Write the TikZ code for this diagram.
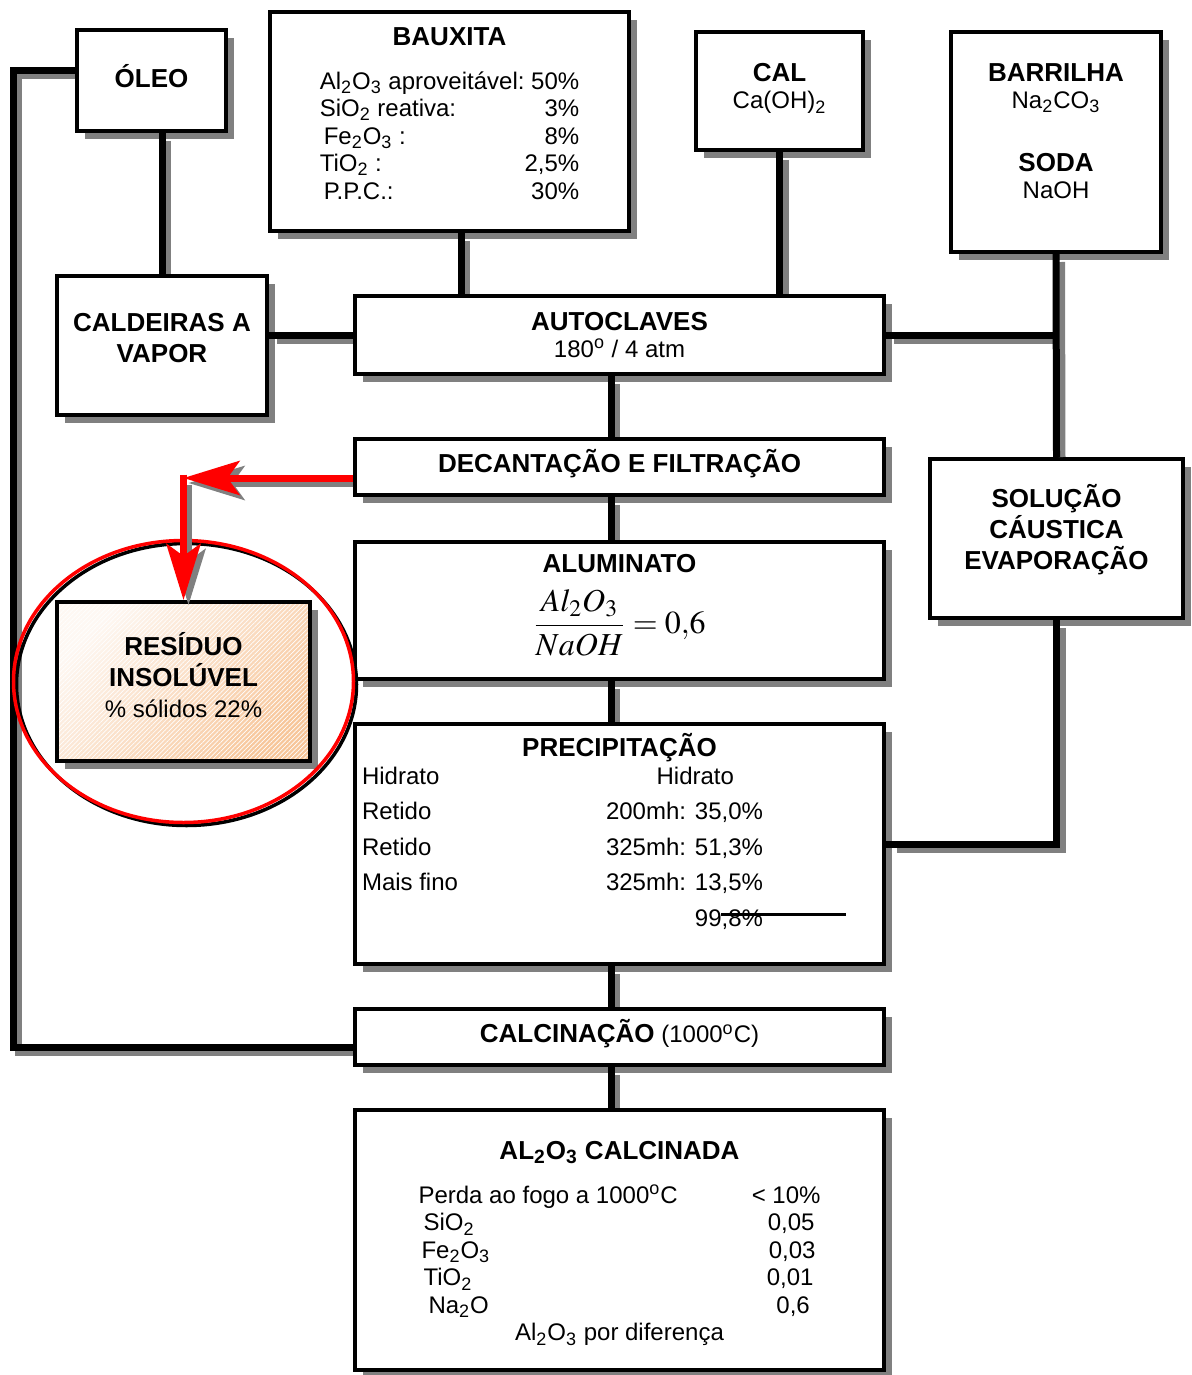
\documentclass[tikz,border=0pt]{standalone}
\usepackage{mathptmx}
\usepackage[no-math]{fontspec}
\setmainfont{Liberation Sans}
\usepackage{tikz}
\usetikzlibrary{arrows.meta, positioning, calc, shadows, patterns.meta}
\definecolor{shadowgray}{RGB}{128,128,128}
\definecolor{peach}{RGB}{247,198,154}
\definecolor{peachlight}{RGB}{254,248,243}
\newcommand{\titlefont}{\fontsize{13}{15.5}\selectfont\bfseries}
\newcommand{\bodyfont}{\fontsize{12}{13.75}\selectfont}
\newcommand{\subs}[1]{\textsubscript{#1}}
\newcommand{\dego}{\textsuperscript{o}}
\tikzset{
  box/.style={rectangle, draw=black, fill=white, line width=2pt,
    drop shadow={shadow xshift=4pt, shadow yshift=-4pt, fill=shadowgray, opacity=1}},
  mainbox/.style={box, minimum width=264.5pt},
  boxtext/.style={align=center, font=\bodyfont, inner sep=0pt},
  link/.style={line width=3.5pt, draw=black},
  linkshade/.style={line width=3.5pt, draw=shadowgray,
    shorten <=1.25pt, shorten >=2.75pt,
    transform canvas={shift={(2.75pt,-2.75pt)}}},
  redarrow/.style={line width=3.5pt, draw=red,
    -{Stealth[length=28pt, width=17pt, inset=6pt]}},
  redshade/.style={redarrow, draw=shadowgray, shorten <=2.5pt,
    transform canvas={shift={(2.5pt,-2.5pt)}}},
  ring/.style={draw=red, line width=1.75pt},
  ringshade/.style={draw=black, line width=1.75pt,
    transform canvas={shift={(1.5pt,-1.5pt)}}}
}
\begin{document}
\begin{tikzpicture}[x=0.5pt, y=-0.5pt]
  \useasboundingbox (0,0) rectangle (1192,1375);

  % caixas de insumos
  \node[box, minimum width=74.5pt, minimum height=50.5pt] (oleo) at (151.5,80.5) {};
  \node[box, minimum width=179.5pt, minimum height=109.5pt] (bauxita) at (449.5,121.5) {};
  \node[box, minimum width=83.5pt, minimum height=59pt] (cal) at (779.5,91) {};
  \node[box, minimum width=105pt, minimum height=110pt] (barrilha) at (1056,142) {};
  \node[box, minimum width=105pt, minimum height=69.5pt] (caldeiras) at (162,345.5) {};

  % linha principal
  \node[mainbox, minimum height=39pt] (autoclaves) at (619.5,335) {};
  \node[mainbox, minimum height=28pt, below=30.5pt of autoclaves] (decant) {};
  \node[mainbox, minimum height=68.5pt, below=21.5pt of decant] (aluminato) {};
  \node[mainbox, minimum height=120pt, below=20.5pt of aluminato] (precip) {};
  \node[mainbox, minimum height=28pt, below=20.5pt of precip] (calcin) {};
  \node[mainbox, minimum height=130pt, below=20.5pt of calcin] (calcinada) {};

  \node[box, minimum width=126.5pt, minimum height=79.5pt] (solucao) at (1056.5,538.5) {};
  \node[box, minimum width=126.5pt, minimum height=79.5pt, shading=axis,
    top color=peachlight, bottom color=peach, shading angle=45,
    postaction={pattern={Lines[angle=45, distance=1.6pt, line width=0.35pt]},
      pattern color=white, draw=black, line width=2pt}] (residuo) at (183.5,681.5) {};

  % textos
  \node[boxtext, font=\titlefont] (oleotext) at ([yshift=2pt]oleo.center) {ÓLEO};
  \node[boxtext] (bauxitatext) at ([yshift=2pt]bauxita.center) {%
    {\titlefont BAUXITA}\\[11pt]
    \begin{tabular}{@{}l@{}r@{}}
      Al\subs{2}O\subs{3} aproveitável: & 50\% \\
      SiO\subs{2} reativa: & 3\% \\
      \hspace{2pt}Fe\subs{2}O\subs{3} : & 8\% \\
      TiO\subs{2} : & 2,5\% \\
      \hspace{2pt}P.P.C.: & 30\%
    \end{tabular}};
  \node[boxtext] (caltext) at ([yshift=1.25pt]cal.center) {{\titlefont CAL}\\Ca(OH)\subs{2}};
  \node[boxtext] (barrilhatext) at ([yshift=5.5pt]barrilha.center) {%
    {\titlefont BARRILHA}\\Na\subs{2}CO\subs{3}\\[17.5pt]{\titlefont SODA}\\NaOH};
  \node[boxtext, font=\titlefont] (caldeirastext) at ([yshift=3.5pt]caldeiras.center) {CALDEIRAS A\\VAPOR};
  \node[boxtext] (autoclavestext) at (autoclaves.center) {{\titlefont AUTOCLAVES}\\180\dego\ / 4 atm};
  \node[boxtext, font=\titlefont] (decanttext) at ([yshift=1.5pt]decant.center) {DECANTAÇÃO E FILTRAÇÃO};
  \node[boxtext] (aluminatotext) at ([yshift=2.75pt]aluminato.center) {%
    {\titlefont ALUMINATO}\\[7.5pt]
    {\fontsize{16}{19}\selectfont $\displaystyle\frac{Al_2O_3}{NaOH}=0{,}6$}};
  \node[boxtext] (preciptext) at ([yshift=4.5pt]precip.center) {%
    {\titlefont PRECIPITAÇÃO}\\[-2pt]
    {\renewcommand{\arraystretch}{1.29}%
    \begin{tabular}{@{}p{122pt}@{}r@{\hspace{57pt}}}
      Hidrato & Hidrato\hspace{14.5pt} \\
      Retido & 200mh: 35,0\% \\
      Retido & 325mh: 51,3\% \\
      Mais fino & 325mh: 13,5\% \\
       & 99,8\%\rlap{\hspace{-21pt}\rule[5.1pt]{62.5pt}{1.75pt}}
    \end{tabular}}};
  \node[boxtext] (calcintext) at ([yshift=1.5pt]calcin.center) {{\titlefont CALCINAÇÃO} (1000\dego C)};
  \node[boxtext] (calcinadatext) at ([yshift=-2.5pt]calcinada.center) {%
    {\titlefont AL\subs{2}O\subs{3} CALCINADA}\\[9pt]
    \begin{tabular}{@{}l@{\hspace{37pt}}c@{}}
      Perda ao fogo a 1000\dego C & < 10\% \\
      \hspace{2.5pt}SiO\subs{2} & \hspace{5pt}0,05 \\
      \hspace{1.5pt}Fe\subs{2}O\subs{3} & \hspace{6pt}0,03 \\
      \hspace{2.5pt}TiO\subs{2} & \hspace{4pt}0,01 \\
      \hspace{5pt}Na\subs{2}O & \hspace{7pt}0,6 \\
      \multicolumn{2}{c}{Al\subs{2}O\subs{3} por diferença}
    \end{tabular}};
  \node[boxtext, font=\titlefont] (solucaotext) at ([yshift=4.25pt]solucao.center) {SOLUÇÃO\\CÁUSTICA\\EVAPORAÇÃO};
  \node[boxtext] (residuotext) at ([yshift=3.25pt]residuo.center) {%
    {\titlefont RESÍDUO}\\[1.75pt]{\titlefont INSOLÚVEL}\\[1.5pt]\% sólidos 22\%};

  % ligacoes
  \coordinate (spine) at (611,0);
  \coordinate (loopx) at (13,0);
  \coordinate (bauxline) at (461,0);
  \coordinate (loopstart) at ([yshift=5pt]oleo.west);
  \coordinate (loopend) at ([yshift=-5pt]calcin.west);
  \draw[linkshade, shorten <=2.75pt] (loopstart) -- (loopstart -| loopx) |- (loopend);
  \draw[link] (loopstart) -- (loopstart -| loopx) |- (loopend);
  \foreach \pass in {linkshade,link} {
    \draw[\pass] (oleo.south -| caldeiras.north) -- (caldeiras.north);
    \draw[\pass] (autoclaves.west -| caldeiras.east) -- (autoclaves.west);
    \draw[\pass] (bauxita.south -| bauxline) -- (autoclaves.north -| bauxline);
    \draw[\pass] (cal.south) -- (cal.south |- autoclaves.north);
    \draw[\pass] (autoclaves.east) -- (autoclaves.east -| barrilha.south);
    \draw[\pass] (barrilha.south) -- (solucao.north);
    \draw[\pass] (solucao.south) |- (precip.east);
    \foreach \a/\b in {autoclaves/decant, decant/aluminato, aluminato/precip, precip/calcin, calcin/calcinada}
      \draw[\pass] (\a.south -| spine) -- (\b.north -| spine);
  }

  % destaque do residuo
  \foreach \pass in {ringshade,ring}
    \draw[\pass] (residuo.center) ellipse [x radius=85pt, y radius=70.5pt];
  \coordinate (redstart) at ([yshift=-5.5pt]decant.west);
  \coordinate (redcorner) at (redstart -| residuo.north);
  \foreach \pass in {redshade,redarrow} {
    \draw[\pass] ([yshift=1.75pt]redcorner) -- (residuo.north);
    \draw[\pass] (redstart) -- (redcorner);
  }
\end{tikzpicture}
\end{document}
